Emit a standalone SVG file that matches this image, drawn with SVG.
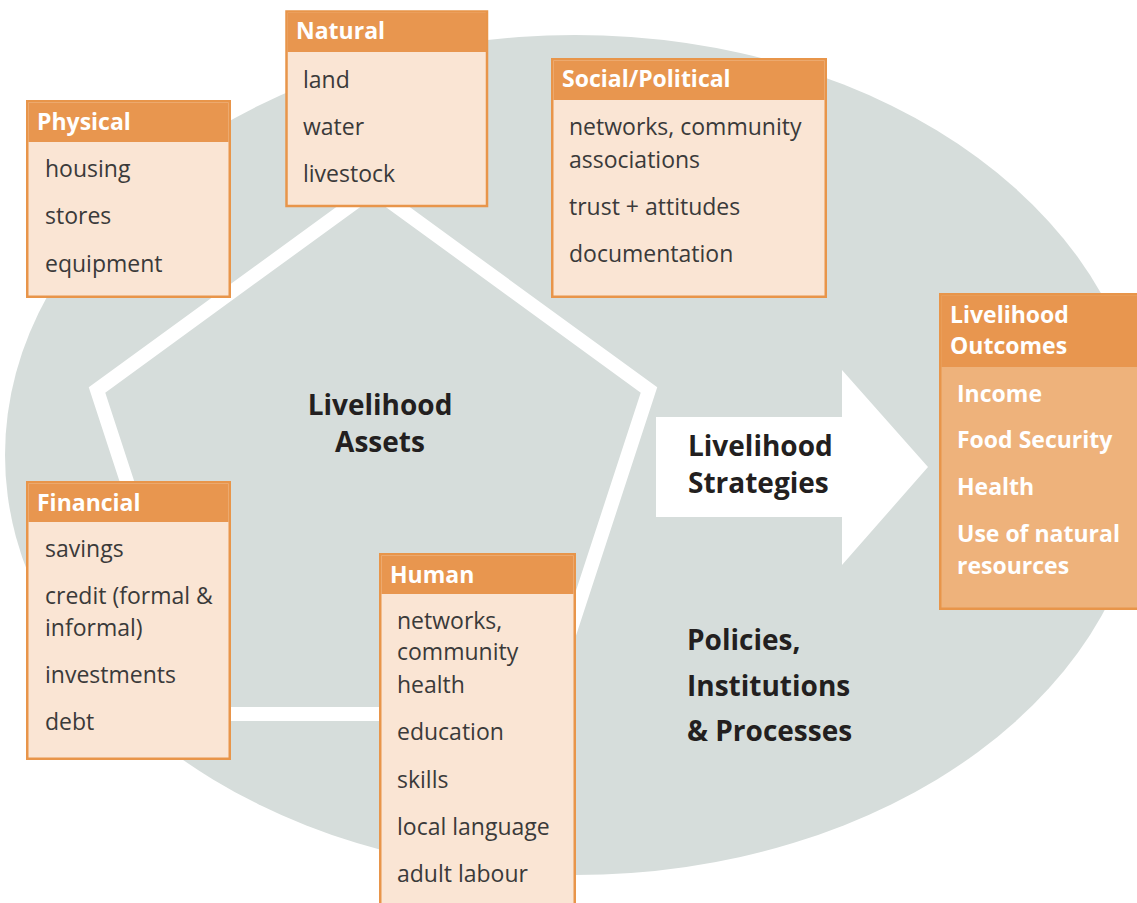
<svg xmlns="http://www.w3.org/2000/svg" width="1137" height="903" viewBox="0 0 1137 903">
<style>
.bd{fill:#fae5d4;stroke:#e8954a;stroke-width:2.5}
.hd{fill:#e8964f}
.ht{font-family:"Open Sans","Noto Sans",sans-serif;font-weight:700;font-size:23px;fill:#ffffff}
.tx{font-family:"Open Sans","Noto Sans",sans-serif;font-size:23px;fill:#3a3a3a}
.big{font-family:"Open Sans","Noto Sans",sans-serif;font-weight:700;font-size:28px;fill:#231f20}
</style>
<rect width="1137" height="903" fill="#ffffff"/>
<ellipse cx="575" cy="455" rx="570" ry="420" fill="#d6dddb"/>
<g id="connectors">
<polygon points="373,189 649,390 543,714 203,714 97,390" fill="none" stroke="#ffffff" stroke-width="14" stroke-linejoin="miter"/>
<polygon points="656,417 842,417 842,370 928,467 842,565 842,517 656,517" fill="#ffffff"/>
</g>
<g id="assets-label">
<text class="big" x="380" y="415" text-anchor="middle">Livelihood</text>
<text class="big" x="380" y="452" text-anchor="middle">Assets</text>
</g>
<g id="strategies-label">
<text class="big" x="688" y="456">Livelihood</text>
<text class="big" x="688" y="493">Strategies</text>
</g>
<g id="pip-label">
<text class="big" x="687" y="650">Policies,</text>
<text class="big" x="687" y="696">Institutions</text>
<text class="big" x="687" y="741">&amp; Processes</text>
</g>
<g id="natural">
<rect class="bd" x="286.5" y="11.5" width="200.5" height="194.5"/>
<rect class="hd" x="287.5" y="12.5" width="198.5" height="39.5"/>
<text class="ht" x="296" y="39">Natural</text>
<text class="tx" x="303" y="88">land</text>
<text class="tx" x="303" y="135">water</text>
<text class="tx" x="303" y="182">livestock</text>
</g>
<g id="physical">
<rect class="bd" x="27.25" y="101.25" width="202.5" height="195.5"/>
<rect class="hd" x="28.5" y="102.5" width="200" height="39.5"/>
<text class="ht" x="37" y="130">Physical</text>
<text class="tx" x="45" y="177">housing</text>
<text class="tx" x="45" y="224">stores</text>
<text class="tx" x="45" y="272">equipment</text>
</g>
<g id="social">
<rect class="bd" x="552.25" y="59.25" width="273.5" height="237.5"/>
<rect class="hd" x="553.5" y="60.5" width="271" height="39.5"/>
<text class="ht" x="562" y="87">Social/Political</text>
<text class="tx" x="569" y="135">networks, community</text>
<text class="tx" x="569" y="168">associations</text>
<text class="tx" x="569" y="215">trust + attitudes</text>
<text class="tx" x="569" y="262">documentation</text>
</g>
<g id="financial">
<rect class="bd" x="27.25" y="482.25" width="202.5" height="276.5"/>
<rect class="hd" x="28.5" y="483.5" width="200" height="38.5"/>
<text class="ht" x="37" y="511">Financial</text>
<text class="tx" x="45" y="557">savings</text>
<text class="tx" x="45" y="604">credit (formal &amp;</text>
<text class="tx" x="45" y="636">informal)</text>
<text class="tx" x="45" y="683">investments</text>
<text class="tx" x="45" y="730">debt</text>
</g>
<g id="human">
<rect class="bd" x="380.25" y="554.25" width="194.5" height="360"/>
<rect class="hd" x="381.5" y="555.5" width="192" height="38.5"/>
<text class="ht" x="390" y="583">Human</text>
<text class="tx" x="397" y="629">networks,</text>
<text class="tx" x="397" y="660">community</text>
<text class="tx" x="397" y="693">health</text>
<text class="tx" x="397" y="740">education</text>
<text class="tx" x="397" y="788">skills</text>
<text class="tx" x="397" y="835">local language</text>
<text class="tx" x="397" y="882">adult labour</text>
</g>
<g id="outcomes">
<rect x="940.25" y="294.25" width="210" height="314.5" fill="#eeb27b" stroke="#e8954a" stroke-width="2.5"/>
<rect class="hd" x="941.5" y="295.5" width="210" height="71.5"/>
<text class="ht" x="950" y="323">Livelihood</text>
<text class="ht" x="950" y="354">Outcomes</text>
<text class="ht" x="957" y="402">Income</text>
<text class="ht" x="957" y="448">Food Security</text>
<text class="ht" x="957" y="495">Health</text>
<text class="ht" x="957" y="542">Use of natural</text>
<text class="ht" x="957" y="574">resources</text>
</g>
</svg>
